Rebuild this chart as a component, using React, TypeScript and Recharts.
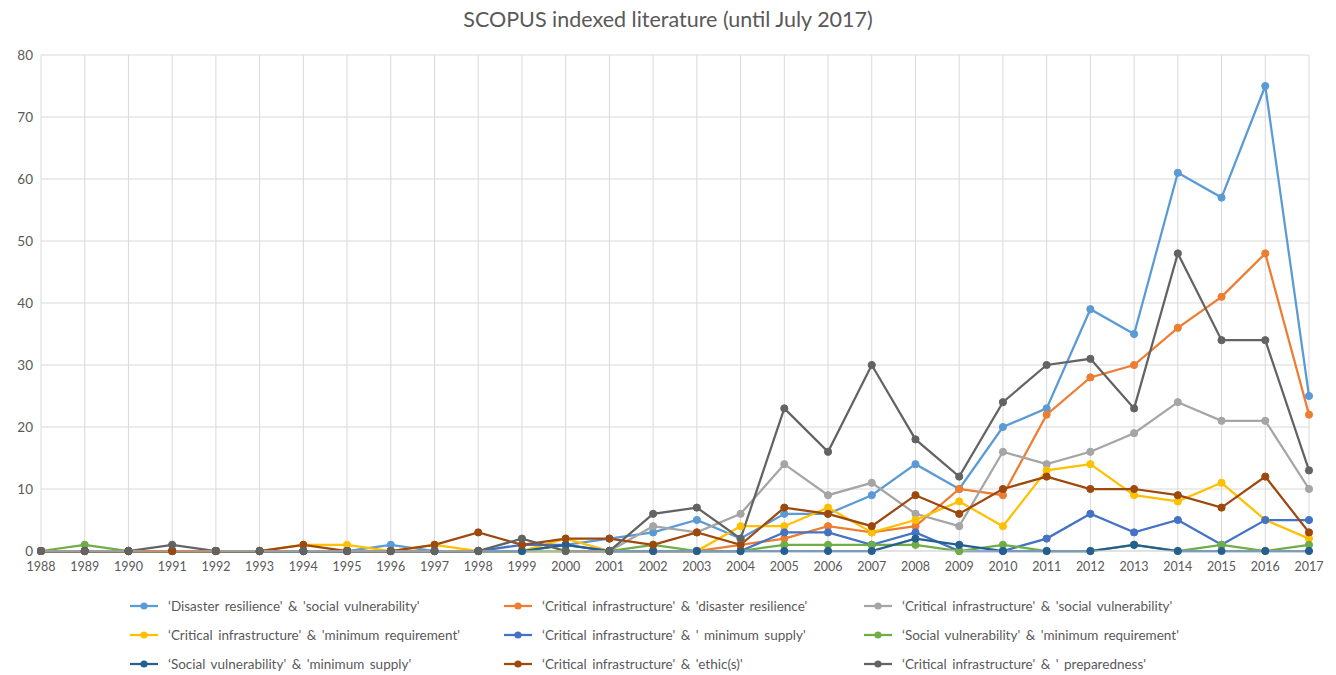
import React from 'react';
import { LineChart, Line, XAxis, YAxis, CartesianGrid } from 'recharts';

const years = [1988,1989,1990,1991,1992,1993,1994,1995,1996,1997,1998,1999,2000,2001,2002,2003,2004,2005,2006,2007,2008,2009,2010,2011,2012,2013,2014,2015,2016,2017];

const drSv = [0,0,0,0,0,0,0,0,1,0,0,0,1,2,3,5,2,6,6,9,14,10,20,23,39,35,61,57,75,25];
const ciDr = [0,0,0,0,0,0,0,0,0,0,0,0,0,0,0,0,1,2,4,3,4,10,9,22,28,30,36,41,48,22];
const ciSv = [0,0,0,0,0,0,0,0,0,0,0,0,0,0,4,3,6,14,9,11,6,4,16,14,16,19,24,21,21,10];
const ciMr = [0,0,0,0,0,0,1,1,0,1,0,0,2,0,0,0,4,4,7,3,5,8,4,13,14,9,8,11,5,2];
const ciMs = [0,0,0,0,0,0,0,0,0,0,0,1,1,0,0,0,0,3,3,1,3,0,0,2,6,3,5,1,5,5];
const svMr = [0,1,0,0,0,0,0,0,0,0,0,0,0,0,1,0,0,1,1,1,1,0,1,0,0,1,0,1,0,1];
const svMs = [0,0,0,0,0,0,0,0,0,0,0,0,1,0,0,0,0,0,0,0,2,1,0,0,0,1,0,0,0,0];
const ciEth = [0,0,0,0,0,0,1,0,0,1,3,1,2,2,1,3,1,7,6,4,9,6,10,12,10,10,9,7,12,3];
const ciPrep = [0,0,0,1,0,0,0,0,0,0,0,2,0,0,6,7,2,23,16,30,18,12,24,30,31,23,48,34,34,13];

const yTicks = [0,10,20,30,40,50,60,70,80];

const seriesNames = [
  "‘Disaster resilience' & 'social vulnerability'",
  "‘Critical infrastructure' & 'disaster resilience'",
  "‘Critical infrastructure' & 'social vulnerability'",
  "‘Critical infrastructure' & 'minimum requirement'",
  "‘Critical infrastructure' & ' minimum supply'",
  "‘Social vulnerability' & 'minimum requirement'",
  "‘Social vulnerability' & 'minimum supply'",
  "‘Critical infrastructure' & 'ethic(s)'",
  "‘Critical infrastructure' & ' preparedness'",
];
const seriesColors = ['#5B9BD5','#ED7D31','#A5A5A5','#FFC000','#4472C4','#70AD47','#255E91','#9E480E','#636363'];
const seriesValues = [drSv, ciDr, ciSv, ciMr, ciMs, svMr, svMs, ciEth, ciPrep];
const keys = ['s0','s1','s2','s3','s4','s5','s6','s7','s8'];

const data = years.map((y, i) => {
  const row: Record<string, number | string> = { year: String(y) };
  keys.forEach((k, j) => { row[k] = seriesValues[j][i]; });
  return row;
});

const FONT = "Lato, 'Open Sans', sans-serif";

export default function App() {
  return (
    <div style={{ position: 'absolute', left: 0, top: 0, width: 1336, height: 675, background: '#fff', fontFamily: FONT }}>
      <div style={{ position: 'absolute', top: 6, left: 0, width: 1336, textAlign: 'center', fontSize: 21.5, color: '#595959' }}>
        SCOPUS indexed literature (until July 2017)
      </div>
      <LineChart width={1336} height={675} data={data} margin={{ top: 55, right: 27, left: 0, bottom: 94 }}>
        <CartesianGrid stroke="#d9d9d9" strokeWidth={1} />
        <XAxis dataKey="year" interval={0} axisLine={{ stroke: '#d9d9d9' }} tickLine={false} tickMargin={5}
          tick={{ fill: '#595959', fontSize: 12.5, fontFamily: FONT }} />
        <YAxis width={41} domain={[0, 80]} ticks={yTicks} axisLine={false} tickLine={false}
          tick={{ fill: '#595959', fontSize: 13.5, fontFamily: FONT }} />
        {keys.map((k, j) => (
          <Line key={k} dataKey={k} name={seriesNames[j]} stroke={seriesColors[j]} strokeWidth={2.25}
            dot={{ r: 3.6, fill: seriesColors[j], stroke: seriesColors[j], strokeWidth: 1 }}
            isAnimationActive={false} />
        ))}
      </LineChart>
      <div style={{ position: 'absolute', left: 128, top: 596, display: 'grid',
        gridTemplateColumns: '374px 360px 380px', rowGap: 9, fontSize: 13.5, color: '#595959', wordSpacing: 2 }}>
        {seriesNames.map((n, j) => (
          <div key={n} style={{ display: 'flex', alignItems: 'center', height: 20, whiteSpace: 'nowrap' }}>
            <svg width={34} height={12} style={{ marginRight: 6 }}>
              <line x1={2} y1={6} x2={30} y2={6} stroke={seriesColors[j]} strokeWidth={2.25} />
              <circle cx={16} cy={6} r={3.6} fill={seriesColors[j]} />
            </svg>
            <span>{n}</span>
          </div>
        ))}
      </div>
    </div>
  );
}
